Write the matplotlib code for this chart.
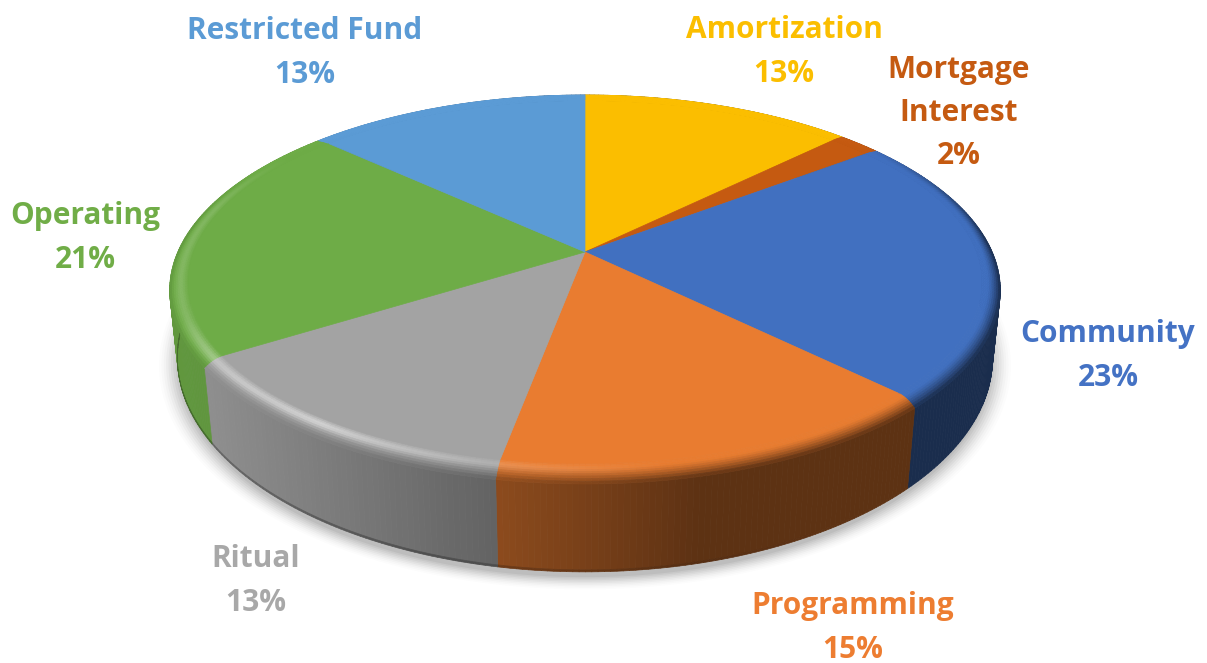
import numpy as np
import matplotlib
matplotlib.use("Agg")
import matplotlib.pyplot as plt
from matplotlib.collections import PolyCollection
from matplotlib.colors import to_rgb

# ---- data (clockwise from 12 o'clock) ----
names = ["Amortization", "Mortgage\nInterest", "Community", "Programming",
         "Ritual", "Operating", "Restricted Fund"]
values = [12.5, 2.0, 23.0, 15.4, 13.1, 21.0, 13.0]
pct_labels = ["13%", "2%", "23%", "15%", "13%", "21%", "13%"]
colors = ["#fbbe00", "#c55a11", "#4170c0", "#e97c30", "#a3a3a3", "#6eac47", "#5b9bd5"]
text_colors = ["#fbbe00", "#c55a11", "#4472c4", "#ed7d31", "#a8a8a8", "#70ad47", "#5b9bd5"]

# ---- layout ----
label_centres = [(784, 52), (959, 113), (1108, 356), (853, 628),
                 (256, 581), (85, 238), (305, 53)]
CX, HUB_Y = 585.0, 252.0
R, S, K = 409.0, 184.3, 0.1736
DROP, DEPTH, FLAT = 9.0, 66.0, 0.957


def project(theta, r=1.0, drop=0.0, depth=0.0):
    """Perspective view of a disc; theta in degrees clockwise from the top."""
    t = np.radians(theta)
    u, v = np.sin(t), np.cos(t)
    w = 1 + K * v * r
    d = drop * np.clip((1 - v) / 2, 0, 1)
    dz = depth / (1 + K * v) ** 1.5
    x = CX + R * r * u / w * (1 - 0.00027 * dz)
    y = HUB_Y + S * r * v / w * -1 + d + dz
    return x, y


def side_factor(x):
    return np.interp(x, [170, 210, 499, 700, 1000], [.88, .87, .60, .40, .40])


def highlight(theta):
    return np.interp(theta, [170, 192, 215, 238, 250, 285, 305],
                     [0, .18, .55, .34, .16, .14, 0])


def rim_mix(theta):
    return np.interp(theta, [50, 85, 280, 300], [0, 1, 1, 0])


def rim_start(theta):
    # how far across the shoulder the darkening begins
    return np.interp(theta, [225, 245], [.30, .72])


def seam(theta):
    # the dark lower seam is only marked on the lit, left part of the wall
    return np.interp(theta, [150, 200, 240], [1.0, .72, .72])


fig = plt.figure(figsize=(12.07, 6.63), dpi=100, facecolor="white")
ax = fig.add_axes([0, 0, 1, 1])
ax.set_xlim(0, 1207)
ax.set_ylim(663, 0)
ax.axis("off")

bounds = np.concatenate([[0], np.cumsum(values)]) * 3.6
bounds[-1] = 360.0

# soft shadow below the body
all_theta = np.linspace(0, 360, 361)
for e, a in zip(np.linspace(1.045, 1.0, 9), [.012, .016, .02, .026, .03, .035, .04, .045, .05]):
    x, y = project(all_theta, r=e, drop=DROP, depth=DEPTH + 4)
    ax.fill(x, y, color="black", alpha=a, lw=0, zorder=1)

side_polys, side_cols = [], []
rim_polys, rim_cols = [], []
top_polys, top_cols = [], []
levels = np.linspace(0, 1, 11)

for i, base in enumerate(colors):
    rgb = np.array(to_rgb(base))
    a0, a1 = bounds[i], bounds[i + 1]
    n = max(2, int(np.ceil((a1 - a0) / 0.75)))
    th = np.linspace(a0, a1, n + 1)

    # flat top
    ax_, ay_ = project(th, r=FLAT)
    hx, hy = project(0.0, r=0.0)
    top_polys.append(np.column_stack([np.r_[hx, ax_], np.r_[hy, ay_]]))
    top_cols.append(rgb)

    for a, b in zip(th[:-1], th[1:]):
        mid = (a + b) / 2
        xm, _ = project(mid, 1.0)
        f = side_factor(xm)
        side_rgb = rgb * f

        # side wall, with a thin dark seam along its lower edge
        for z0, z1, shade in ((0, DEPTH - 1.5, 1.0), (DEPTH - 1.5, DEPTH, seam(mid))):
            xa, ya = project(a, 1.0, DROP, z0)
            xb, yb = project(b, 1.0, DROP, z0)
            xc, yc = project(b, 1.0, DROP, z1)
            xd, yd = project(a, 1.0, DROP, z1)
            side_polys.append([(xa, ya), (xb, yb), (xc, yc), (xd, yd)])
            side_cols.append(side_rgb * shade)

        # rounded shoulder between top and wall
        h, m, s0 = highlight(mid), rim_mix(mid), rim_start(mid)
        for t0, t1 in zip(levels[:-1], levels[1:]):
            tm = (t0 + t1) / 2
            r0, r1 = FLAT + (1 - FLAT) * t0, FLAT + (1 - FLAT) * t1
            d0, d1 = DROP * t0 ** 2, DROP * t1 ** 2
            bump = h * np.exp(-((tm - .42) / .28) ** 2)
            col = rgb + (1 - rgb) * bump
            toward = np.clip((tm - s0) / (1 - s0), 0, 1) ** 1.5 * m
            col = col * (1 - toward) + side_rgb * toward
            pa = project(a, r0, d0)
            pb = project(b, r0, d0)
            pc = project(b, r1, d1)
            pd = project(a, r1, d1)
            rim_polys.append([pa, pb, pc, pd])
            rim_cols.append(np.clip(col, 0, 1))

ax.add_collection(PolyCollection(side_polys, facecolors=side_cols, edgecolors=side_cols,
                                 linewidths=.5, zorder=2))
ax.add_collection(PolyCollection(rim_polys, facecolors=rim_cols, edgecolors=rim_cols,
                                 linewidths=.5, zorder=3))
ax.add_collection(PolyCollection(top_polys, facecolors=top_cols, edgecolors=top_cols,
                                 linewidths=.5, zorder=4))

for name, pct, col, (lx, ly) in zip(names, pct_labels, text_colors, label_centres):
    ax.text(lx, ly, f"{name}\n{pct}", color=col, ha="center", va="center", ma="center",
            fontsize=21.5, fontweight="bold", family=["Open Sans", "DejaVu Sans"],
            linespacing=1.58, zorder=6)

fig.savefig("out.png", dpi=100, facecolor="white")
